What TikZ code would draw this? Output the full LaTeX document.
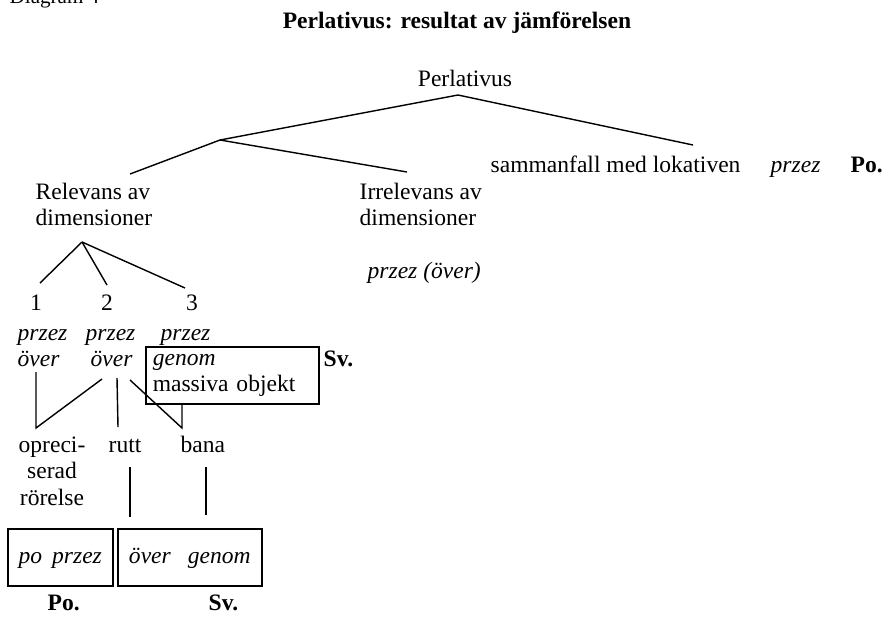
\documentclass[tikz,border=0pt]{standalone}
\usepackage{fontspec}
\setmainfont{Liberation Serif}
\begin{document}
\begin{tikzpicture}[x=0.02cm,y=-0.02cm,line width=0.8pt,
  every node/.style={inner sep=0pt,font=\fontsize{13.4}{15}\selectfont},
  word/.style={anchor=base west},
  ital/.style={font=\fontsize{13.4}{15}\selectfont\itshape},
  lang/.style={anchor=base west,font=\fontsize{13.4}{15}\selectfont\bfseries},
  langbox/.style={draw,line width=0.9pt,minimum height=1.14cm,anchor=north west}]
  \useasboundingbox (0,0) rectangle (885,620);
  \clip (0,0) rectangle (885,620);

  \node (diag) [word,font=\fontsize{12}{14}\selectfont] at (9,3) {Diagram 4};
  \node (title) [anchor=base,font=\fontsize{13.4}{15}\selectfont\bfseries] at (457,28) {Perlativus: resultat av jämförelsen};

  % upper tree
  \node (perl) [anchor=base] at (465,86) {Perlativus};
  \node (samm) [word] at (490,172) {sammanfall med lokativen};
  \node (sammprz) [word,ital] at (770,172) {przez};
  \node (sammpo) [lang] at (850,172) {Po.};
  \node (rel) [anchor=north west,align=left] at (35,182) {Relevans av\\dimensioner};
  \node (irr) [anchor=north west,align=left] at (359,182) {Irrelevans av\\dimensioner};
  \node (irrprz) [word,ital] at (367,278) {przez (över)};

  \coordinate (top) at (458,95);
  \coordinate (split) at (220,140);
  \coordinate (relend) at (130,174);
  \coordinate (irrend) at (407,172);
  \coordinate (sammend) at (693,145);
  \draw (sammend) -- (top) -- (split) -- (relend);
  \draw (split) -- (irrend);

  % dimensions
  \coordinate (dtop) at (82,242);
  \foreach \n/\x/\ex/\ey in {1/36/40/283,2/107/107/285,3/192/185/288} {
    \node (d\n) [anchor=base] at (\x,310) {\n};
    \coordinate (dend\n) at (\ex,\ey);
    \draw (dtop) -- (dend\n);
  }
  \foreach \n/\x in {1/17,2/85,3/160}
    \node (prz\n) [word,ital] at (\x,340) {przez};
  \foreach \n/\x in {1/17,2/90}
    \node (ov\n) [word,ital] at (\x,366) {över};
  \node (gbox) [langbox,minimum width=3.46cm,text width=3.18cm,inner xsep=0.14cm,align=left] at (145,346) {\textit{genom}\\massiva objekt};
  \node (gsv) [lang] at (323,366) {Sv.};

  % kinds of motion
  \node (oprec) [anchor=north,align=center] at (52,436) {opreci-\\serad\\rörelse};
  \node (rutt) [word] at (108,452) {rutt};
  \node (bana) [word] at (180,452) {bana};

  \coordinate (ovA) at (36,372);
  \coordinate (ovB) at (102,379);
  \coordinate (oprtop) at (36,428);
  \draw (ovA) -- (oprtop) -- (ovB);
  \coordinate (ruttA) at (117,378);
  \coordinate (rutttop) at (118,427);
  \draw (ruttA) -- (rutttop);
  \coordinate (banaA) at (130,380);
  \coordinate (banatop) at (182,428);
  \draw (banaA) -- (banatop) -- (banatop |- gbox.south);

  % words in the two languages
  \node (pobox) [langbox,ital,minimum width=2.1cm,text height=0.33cm,text depth=0.1cm] at (7,528) {po\hspace{0.2cm}przez};
  \node (svbox) [langbox,ital,minimum width=2.88cm,text height=0.33cm,text depth=0.1cm] at (117,528) {över\hspace{0.34cm}genom};
  \node (po) [lang] at (47,610) {Po.};
  \node (sv) [lang] at (208,610) {Sv.};

  \coordinate (ruttlow) at (130,467);
  \coordinate (banalow) at (206,467);
  \draw (ruttlow) -- (130,517);
  \draw (banalow) -- (206,515);
\end{tikzpicture}
\end{document}
